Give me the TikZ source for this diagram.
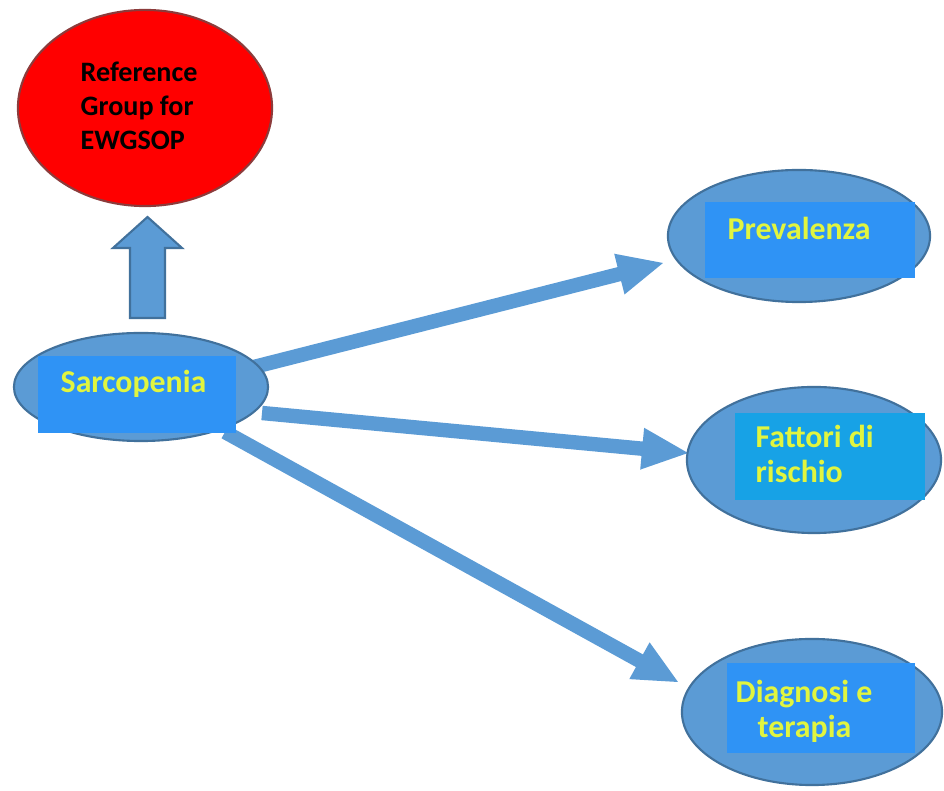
\documentclass[tikz,border=0pt]{standalone}
\usepackage{fontspec}
\setmainfont{Carlito}
\usetikzlibrary{shapes.geometric,calc}

\definecolor{ellblue}{HTML}{5B9BD5}
\definecolor{ellborder}{HTML}{41719C}
\definecolor{panelblue}{HTML}{2F93F5}
\definecolor{panelcyan}{HTML}{17A2E6}
\definecolor{lblyellow}{HTML}{E1F53F}
\definecolor{refred}{HTML}{FF0000}
\definecolor{refborder}{HTML}{8C3B3B}

\tikzset{
  bubble/.style={ellipse, draw=ellborder, line width=0.6pt, fill=ellblue, inner sep=0pt},
  refbubble/.style={ellipse, draw=refborder, line width=0.6pt, fill=refred, inner sep=0pt},
  panel/.style={fill=#1, draw=none},
  caption/.style={font=\bfseries\fontsize{9.05}{9.96}\selectfont, text=lblyellow,
    inner sep=0pt, align=left, anchor=base west},
  refcaption/.style={font=\bfseries\fontsize{8}{9.67}\selectfont, text=black,
    inner sep=0pt, align=left, anchor=base west},
  flatarrow/.style={fill=ellblue, draw=none},
  uparrow/.style={fill=ellblue, draw=ellborder, line width=0.6pt, line join=miter},
}

% block arrow: #1 style, #2 start, #3 tip, #4 half shaft width,
% #5 head length, #6 half head width
\newcommand\blockarrow[6]{%
  \coordinate (hb) at ($(#3)!#5!(#2)$);
  \path[#1] ($(#2)!#4!90:(#3)$) -- ($(hb)!#4!90:(#3)$) -- ($(hb)!#6!90:(#3)$)
    -- (#3) -- ($(hb)!#6!-90:(#3)$) -- ($(hb)!#4!-90:(#3)$)
    -- ($(#2)!#4!-90:(#3)$) -- cycle;
}

\begin{document}
\begin{tikzpicture}[x=0.01cm, y=-0.01cm]
  \useasboundingbox (0,0) rectangle (944,791);
  \fill[white] (0,0) rectangle (944,791);

  % connector ends
  \coordinate (s1) at (250,368);
  \coordinate (t1) at (663,263);
  \coordinate (s2) at (262,413);
  \coordinate (t2) at (688,453);
  \coordinate (s3) at (225,432);
  \coordinate (t3) at (678,682);
  \coordinate (s0) at (147.5,318);
  \coordinate (t0) at (147.5,217);

  % arrows from Sarcopenia to the three topics
  \blockarrow{flatarrow}{s1}{t1}{0.072cm}{0.45cm}{0.21cm}
  \blockarrow{flatarrow}{s2}{t2}{0.072cm}{0.46cm}{0.21cm}
  \blockarrow{flatarrow}{s3}{t3}{0.072cm}{0.44cm}{0.21cm}

  % ellipses
  \node[refbubble, minimum width=2.54cm, minimum height=1.96cm] (ref) at (145,108) {};
  \node[bubble, minimum width=2.54cm, minimum height=1.08cm] (sarc) at (141,387) {};
  \node[bubble, minimum width=2.62cm, minimum height=1.32cm] (prev) at (799,236) {};
  \node[bubble, minimum width=2.54cm, minimum height=1.46cm] (fatt) at (814,460) {};
  \node[bubble, minimum width=2.60cm, minimum height=1.46cm] (diag) at (812,712) {};

  % arrow up to the reference group
  \blockarrow{uparrow}{s0}{t0}{0.175cm}{0.31cm}{0.345cm}

  % coloured panels behind the labels
  \fill[panel=panelblue] (38,356) rectangle (236,433);
  \fill[panel=panelblue] (705,202) rectangle (915,278);
  \fill[panel=panelcyan] (735,413) rectangle (925,500);
  \fill[panel=panelblue] (727,663) rectangle (915,753);

  % labels (multi-line labels are anchored on their last baseline)
  \node[refcaption] (reftxt) at (80,150) {Reference\\Group for\\EWGSOP};
  \node[caption] (sarctxt) at (60,393) {Sarcopenia};
  \node[caption] (prevtxt) at (727,240) {Prevalenza};
  \node[caption] (fatttxt) at (755,483) {Fattori di\\rischio};
  \node[caption] (diagtxt) at (735,738) {Diagnosi e\\\hspace*{0.22cm}terapia};
\end{tikzpicture}
\end{document}
